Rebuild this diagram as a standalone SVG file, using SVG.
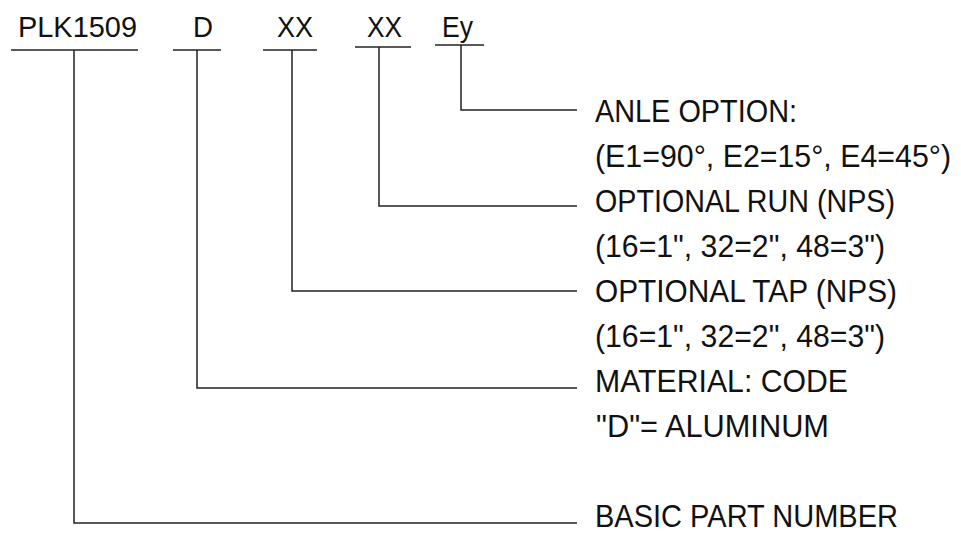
<svg xmlns="http://www.w3.org/2000/svg" width="961" height="533" viewBox="0 0 961 533">
  <style>
    .bg { fill: #ffffff; }
    .code { font-family: "Liberation Sans", Arial, sans-serif; font-size: 29px; fill: #111111; }
    .desc { font-family: "Liberation Sans", Arial, sans-serif; font-size: 31px; fill: #111111; }
    .ul { stroke: #222222; stroke-width: 1.5; fill: none; }
    .lead { stroke: #222222; stroke-width: 1.5; fill: none; }
  </style>
  <rect class="bg" x="0" y="0" width="961" height="533"/>

  <g id="code-plk1509">
    <text class="code" x="18" y="37" textLength="119" lengthAdjust="spacingAndGlyphs">PLK1509</text>
    <line class="ul" x1="11" y1="50" x2="138" y2="50"/>
  </g>
  <g id="code-d">
    <text class="code" x="193" y="37" textLength="20" lengthAdjust="spacingAndGlyphs">D</text>
    <line class="ul" x1="173" y1="50" x2="221" y2="50"/>
  </g>
  <g id="code-xx-tap">
    <text class="code" x="277" y="37" textLength="36" lengthAdjust="spacingAndGlyphs">XX</text>
    <line class="ul" x1="263" y1="50" x2="317" y2="50"/>
  </g>
  <g id="code-xx-run">
    <text class="code" x="367" y="37" textLength="35" lengthAdjust="spacingAndGlyphs">XX</text>
    <line class="ul" x1="355" y1="47" x2="411" y2="47"/>
  </g>
  <g id="code-ey">
    <text class="code" x="442" y="37" textLength="31" lengthAdjust="spacingAndGlyphs">Ey</text>
    <line class="ul" x1="435" y1="45" x2="484" y2="45"/>
  </g>

  <g id="connectors">
    <path class="lead" d="M461 45 V110 H577"/>
    <path class="lead" d="M379 47 V206 H577"/>
    <path class="lead" d="M292 50 V291 H577"/>
    <path class="lead" d="M197 50 V388 H577"/>
    <path class="lead" d="M74 50 V523 H577"/>
  </g>

  <g id="label-angle">
    <text class="desc" x="595" y="122" textLength="202" lengthAdjust="spacingAndGlyphs">ANLE OPTION:</text>
    <text class="desc" x="595" y="167" textLength="356" lengthAdjust="spacingAndGlyphs">(E1=90°, E2=15°, E4=45°)</text>
  </g>
  <g id="label-run">
    <text class="desc" x="595" y="212" textLength="300" lengthAdjust="spacingAndGlyphs">OPTIONAL RUN (NPS)</text>
    <text class="desc" x="595" y="257" textLength="290" lengthAdjust="spacingAndGlyphs">(16=1", 32=2", 48=3")</text>
  </g>
  <g id="label-tap">
    <text class="desc" x="595" y="302" textLength="302" lengthAdjust="spacingAndGlyphs">OPTIONAL TAP (NPS)</text>
    <text class="desc" x="595" y="347" textLength="290" lengthAdjust="spacingAndGlyphs">(16=1", 32=2", 48=3")</text>
  </g>
  <g id="label-material">
    <text class="desc" x="595" y="392" textLength="253" lengthAdjust="spacingAndGlyphs">MATERIAL: CODE</text>
    <text class="desc" x="596" y="437" textLength="233" lengthAdjust="spacingAndGlyphs">"D"= ALUMINUM</text>
  </g>
  <g id="label-basic">
    <text class="desc" x="595" y="527" textLength="303" lengthAdjust="spacingAndGlyphs">BASIC PART NUMBER</text>
  </g>
</svg>
